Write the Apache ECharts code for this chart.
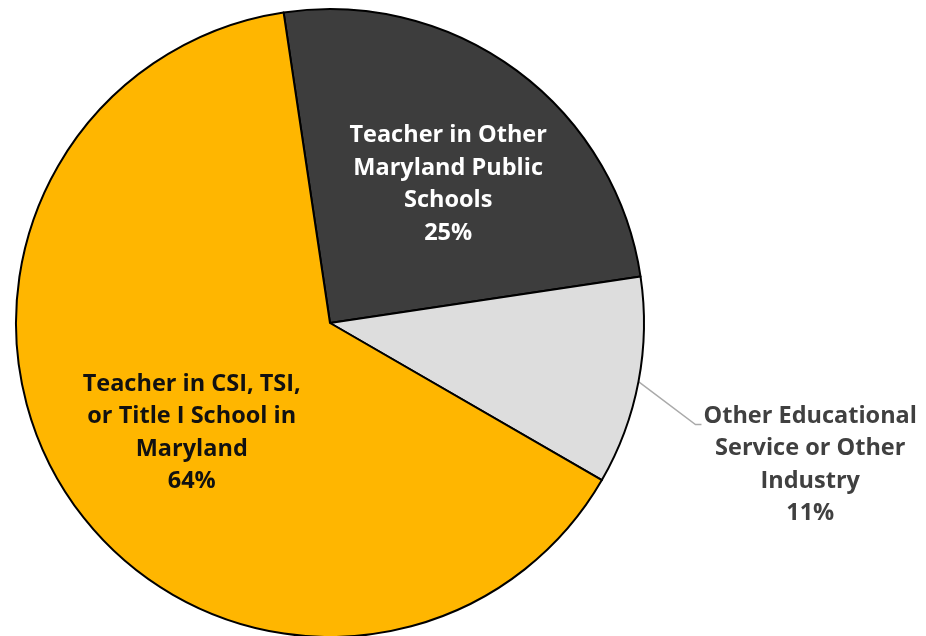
<!DOCTYPE html>
<html><head><meta charset="utf-8">
<script src="https://cdn.jsdelivr.net/npm/echarts@6/dist/echarts.min.js"></script>
<style>html,body{margin:0;padding:0;background:#fff}#c{width:926px;height:636px}</style>
</head><body><div id="c"></div>
<script>
const categories = ["Teacher in Other\nMaryland Public\nSchools", "Other Educational\nService or Other\nIndustry", "Teacher in CSI, TSI,\nor Title I School in\nMaryland"];
const values = [25.0, 10.7, 64.3];
const colors = ["#3d3d3d", "#dddddd", "#ffb600"];
const labelColors = ["#ffffff", "#404040", "#111111"];

function fmt(p){
  const lines = p.name.split("\n");
  lines.push(p.percent + "%");
  return lines.map(l => "{a|" + l + "}").join("\n");
}
const labelCfg = [
  {position:"inside", offset:[23,-10]},
  {position:"outside"},
  {position:"inside", offset:[-6,20]}
];
const chart = echarts.init(document.getElementById("c"));
chart.setOption({
  animation:false,
  series:[{
    type:"pie",
    center:[330,323],
    radius:[0,314],
    startAngle:98.5,
    clockwise:true,
    percentPrecision:0,
    avoidLabelOverlap:false,
    itemStyle:{borderColor:"#000",borderWidth:2},
    labelLine:{show:true,length:70,length2:6,lineStyle:{color:"#aaaaaa",width:1.5}},
    labelLayout:function(params){
      if(params.dataIndex!==1) return {};
      const s = params.labelLinePoints[0];
      const p1 = [s[0]+57, s[1]+43];
      const p2 = [p1[0]+6, p1[1]];
      return {x:p2[0]+2, y:p2[1]-25, align:"left", verticalAlign:"top",
              labelLinePoints:[s,p1,p2]};
    },
    data: categories.map((c,i)=>({
      name:c, value:values[i],
      itemStyle:{color:colors[i]},
      label:Object.assign({
        show:true,
        formatter:fmt,
        rich:{a:{fontFamily:"Open Sans",fontWeight:"bold",fontSize:23.5,lineHeight:32.5,color:labelColors[i],align:"center"}}
      }, labelCfg[i]),
      labelLine:{show:i===1}
    }))
  }]
});
</script></body></html>
